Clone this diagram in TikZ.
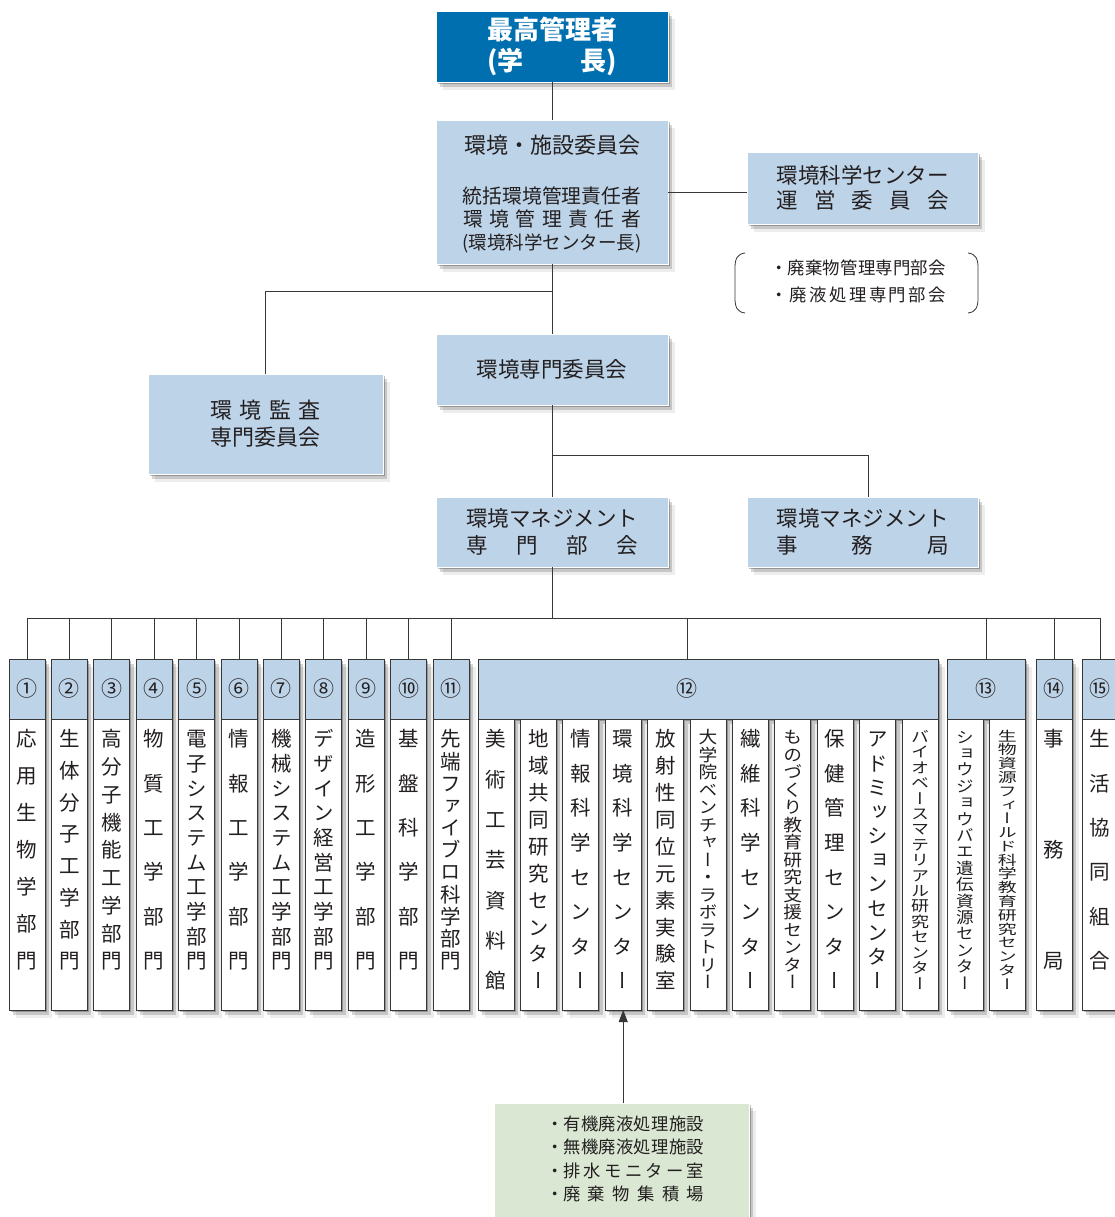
\documentclass[tikz,border=0pt]{standalone}
\usepackage{fontspec}
\setmainfont{Noto Sans CJK JP}
\newfontfamily\vjp[RawFeature=+vert]{Noto Sans CJK JP}
\newfontfamily\vjpA[RawFeature=+vert,FakeStretch=1.1]{Noto Sans CJK JP}
\newfontfamily\vjpB[RawFeature=+vert,FakeStretch=1.2]{Noto Sans CJK JP}
\newfontfamily\vjpC[RawFeature=+vert,FakeStretch=1.4]{Noto Sans CJK JP}
\usetikzlibrary{shadows,arrows.meta}
\definecolor{darkblue}{RGB}{0,111,176}
\definecolor{lblue}{RGB}{189,211,232}
\definecolor{lgreen}{RGB}{218,232,211}
\definecolor{txt}{RGB}{35,31,32}
\definecolor{ln}{RGB}{55,55,55}
\makeatletter
\newcommand\vstk[2]{\vbox to #1pt{\offinterlineskip\let\vsep\relax
  \@for\vc:=#2\do{\vsep\hbox to 1em{\hss\vrule height .88em depth .12em width 0pt\vc\hss}\let\vsep\vfil}}}
\newcommand\sprd[2]{\hbox to #1pt{\let\hsep\relax\@for\hc:=#2\do{\hsep\hc\let\hsep\hfil}}}
\makeatother
\begin{document}
\begin{tikzpicture}[x=1pt,y=-1pt,
  every node/.style={inner sep=0pt,outer sep=0pt,text=txt},
  shd/.style={drop shadow={shadow xshift=1.5pt,shadow yshift=-2pt,fill=black,opacity=.25},
              drop shadow={shadow xshift=4pt,shadow yshift=-5pt,fill=black,opacity=.16},
              drop shadow={shadow xshift=7pt,shadow yshift=-8pt,fill=black,opacity=.07}},
  box/.style={shd,draw=white,line width=.8pt,fill=lblue,rectangle,align=center},
  hd/.style={shd,draw=ln,line width=.8pt,fill=lblue,anchor=north,minimum height=60pt,font=\fontsize{21}{21}\selectfont},
  bd/.style={shd,draw=ln,line width=.8pt,fill=white,anchor=north,minimum width=36pt,minimum height=291pt},
  vt/.style={font=\fontsize{20.5}{20.5}\vjp},
  conn/.style={draw=ln,line width=.9pt}]
\useasboundingbox (0,0) rectangle (1115,1217);
\fill[white] (0,0) rectangle (1115,1217);

% upper boxes
\node[box,fill=darkblue,text=white,minimum width=232pt,minimum height=71pt,
  font=\fontsize{26}{31}\selectfont\bfseries] (top) at (552,46.5)
  {最高管理者\\\hbox to 130pt{(学\hfil 長)}};
\node[box,minimum width=232pt,minimum height=144pt] (b2) at (552,192) {};
\node[font=\fontsize{22}{22}\selectfont] (b2a) at (552,145) {環境・施設委員会};
\node[font=\fontsize{19.8}{23}\selectfont,align=center] (b2b) at (552,220)
  {統括環境管理責任者\\\sprd{178}{環,境,管,理,責,任,者}\\{\fontsize{18.5}{23}\selectfont (環境科学センター長)}};
\node[box,minimum width=231pt,minimum height=72pt,font=\fontsize{21.5}{25}\selectfont] (cen) at (862.5,188)
  {環境科学センター\\\sprd{172}{運,営,委,員,会}};
\node[font=\fontsize{17.4}{27}\selectfont,align=center] (brk) at (858,281.5)
  {\sprd{176}{・,廃,棄,物,管,理,専,門,部,会}\\\sprd{176}{・,廃,液,処,理,専,門,部,会}};
\draw[conn,line width=.8pt] (745,253) .. controls (737,254) and (735,259) .. (735,268) -- (735,298) .. controls (735,307) and (737,312) .. (745,313);
\draw[conn,line width=.8pt] (968,253) .. controls (976,254) and (978,259) .. (978,268) -- (978,298) .. controls (978,307) and (976,312) .. (968,313);
\node[box,minimum width=232pt,minimum height=71pt,font=\fontsize{21.5}{25}\selectfont] (spc) at (552,369.5) {環境専門委員会};
\node[box,minimum width=235pt,minimum height=100pt,font=\fontsize{22}{27}\selectfont] (aud) at (265.5,424)
  {\sprd{110}{環,境,監,査}\\専門委員会};
\node[box,minimum width=232pt,minimum height=70pt,font=\fontsize{21.5}{27}\selectfont] (mgt) at (552,532)
  {環境マネジメント\\\sprd{172}{専,門,部,会}};
\node[box,minimum width=231pt,minimum height=70pt,font=\fontsize{21.5}{27}\selectfont] (off) at (862.5,532)
  {環境マネジメント\\\sprd{172}{事,務,局}};

% connectors upper
\coordinate (j1) at (552,291);
\coordinate (j2) at (552,455);
\coordinate (bus) at (552,618);
\draw[conn] (top.south) -- (b2.north);
\draw[conn] (b2.east) -- (b2.east -| cen.west);
\draw[conn] (b2.south) -- (spc.north);
\draw[conn] (j1) -| (aud.north);
\draw[conn] (spc.south) -- (mgt.north);
\draw[conn] (j2) -| ([xshift=5.5pt]off.north);
\draw[conn] (mgt.south) -- (bus);

% column headers
\foreach \i/\cx/\lab in {1/27/①,2/69.4/②,3/111.8/③,4/154.2/④,5/196.6/⑤,6/239/⑥,7/281.4/⑦,8/323.8/⑧,9/366.2/⑨,10/408.6/⑩,11/451/⑪,14/1054/⑭,15/1100/⑮}
  \node[hd,minimum width=36pt] (h\i) at (\cx,659) {\lab};
\node[hd,minimum width=460pt] (h12) at (708,659) {};
\node[font=\fontsize{21}{21}\selectfont] (n12) at (687,689) {⑫};
\node[hd,minimum width=78.4pt] (h13) at (986.2,659) {⑬};

% column bodies
\foreach \i/\cx in {1/27,2/69.4,3/111.8,4/154.2,5/196.6,6/239,7/281.4,8/323.8,9/366.2,10/408.6,11/451,
  12a/496,12b/538.4,12c/580.8,12d/623.2,12e/665.6,12f/708,12g/750.4,12h/792.8,12i/835.2,12j/877.6,12k/920,
  13a/965,13b/1007.4,14/1054,15/1100}
  \node[bd] (b\i) at (\cx,719) {};

% vertical texts
\node[vt] (t1) at (27,850) {\vstk{240}{応,用,生,物,学,部,門}};
\node[vt] (t2) at (69.4,850) {\vstk{240}{生,体,分,子,工,学,部,門}};
\node[vt] (t3) at (111.8,850) {\vstk{240}{高,分,子,機,能,工,学,部,門}};
\node[vt] (t4) at (154.2,850) {\vstk{240}{物,質,工,学,部,門}};
\node[vt] (t5) at (196.6,850) {\vstk{240}{電,子,シ,ス,テ,ム,工,学,部,門}};
\node[vt] (t6) at (239,850) {\vstk{240}{情,報,工,学,部,門}};
\node[vt] (t7) at (281.4,850) {\vstk{240}{機,械,シ,ス,テ,ム,工,学,部,門}};
\node[vt] (t8) at (323.8,850) {\vstk{240}{デ,ザ,イ,ン,経,営,工,学,部,門}};
\node[vt] (t9) at (366.2,850) {\vstk{240}{造,形,工,学,部,門}};
\node[vt] (t10) at (408.6,850) {\vstk{240}{基,盤,科,学,部,門}};
\node[vt] (t11) at (451,850) {\vstk{240}{先,端,フ,ァ,イ,ブ,ロ,科,学,部,門}};
\node[vt] (t12a) at (496,860) {\vstk{260}{美,術,工,芸,資,料,館}};
\node[vt] (t12b) at (538.4,860) {\vstk{260}{地,域,共,同,研,究,セ,ン,タ,ー}};
\node[vt] (t12c) at (580.8,860) {\vstk{260}{情,報,科,学,セ,ン,タ,ー}};
\node[vt] (t12d) at (623.2,860) {\vstk{260}{環,境,科,学,セ,ン,タ,ー}};
\node[vt] (t12e) at (665.6,860) {\vstk{260}{放,射,性,同,位,元,素,実,験,室}};
\node[font=\fontsize{17}{17}\vjpA] (t12f) at (708,860) {\vstk{260}{大,学,院,ベ,ン,チ,ャ,ー,・,ラ,ボ,ラ,ト,リ,ー}};
\node[vt] (t12g) at (750.4,860) {\vstk{260}{繊,維,科,学,セ,ン,タ,ー}};
\node[font=\fontsize{17}{17}\vjpA] (t12h) at (792.8,860) {\vstk{260}{も,の,づ,く,り,教,育,研,究,支,援,セ,ン,タ,ー}};
\node[vt] (t12i) at (835.2,860) {\vstk{260}{保,健,管,理,セ,ン,タ,ー}};
\node[vt] (t12j) at (877.6,860) {\vstk{260}{ア,ド,ミ,ッ,シ,ョ,ン,セ,ン,タ,ー}};
\node[font=\fontsize{15}{15}\vjpB] (t12k) at (920,860) {\vstk{260}{バ,イ,オ,ベ,ー,ス,マ,テ,リ,ア,ル,研,究,セ,ン,タ,ー}};
\node[font=\fontsize{16}{16}\vjpA] (t13a) at (965,860) {\vstk{260}{シ,ョ,ウ,ジ,ョ,ウ,バ,エ,遺,伝,資,源,セ,ン,タ,ー}};
\node[font=\fontsize{13.5}{13.5}\vjpC] (t13b) at (1007.4,860) {\vstk{260}{生,物,資,源,フ,ィ,ー,ル,ド,科,学,教,育,研,究,セ,ン,タ,ー}};
\node[vt] (t14) at (1054,850) {\vstk{240}{事,務,局}};
\node[vt] (t15) at (1100,850) {\vstk{240}{生,活,協,同,組,合}};

% bus and drops
\draw[conn] (h1.north |- bus) -- (h15.north |- bus);
\foreach \n in {h1,h2,h3,h4,h5,h6,h7,h8,h9,h10,h11,h13,h14,h15}
  \draw[conn] (\n.north) -- (\n.north |- bus);
\draw[conn] (n12 |- h12.north) -- (n12 |- bus);

% green box
\node[box,fill=lgreen,minimum width=255pt,minimum height=114pt] (grn) at (621.5,1160) {};
\node[font=\fontsize{17.3}{23.3}\selectfont,align=center] (grt) at (625,1159)
  {\sprd{158}{・,有,機,廃,液,処,理,施,設}\\\sprd{158}{・,無,機,廃,液,処,理,施,設}\\\sprd{158}{・排,水,モ,ニ,タ,ー,室}\\\sprd{158}{・廃,棄,物,集,積,場}};
\draw[conn,-{Triangle[length=12pt,width=9pt]}] (b12d.south |- grn.north) -- (b12d.south);
\end{tikzpicture}
\end{document}
